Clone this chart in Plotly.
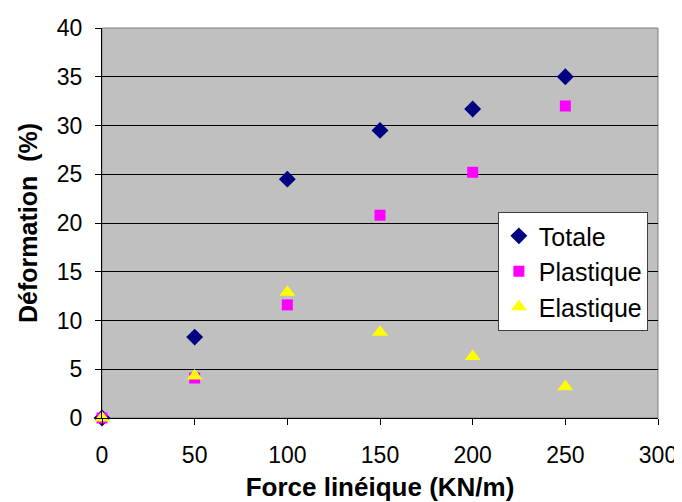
import plotly.graph_objects as go

force = [0, 50, 100, 150, 200, 250]
totale = [0, 8.3, 24.5, 29.5, 31.7, 35.0]
plastique = [0, 4.1, 11.6, 20.8, 25.2, 32.0]
elastique = [0, 4.3, 12.9, 8.8, 6.3, 3.2]

fig = go.Figure()
fig.add_trace(go.Scatter(x=force, y=totale, mode="markers", name="Totale", cliponaxis=False,
                         marker=dict(symbol="diamond", size=13, color="#000080")))
fig.add_trace(go.Scatter(x=force, y=plastique, mode="markers", name="Plastique", cliponaxis=False,
                         marker=dict(symbol="square", size=11, color="#FF00FF")))
fig.add_trace(go.Scatter(x=force, y=elastique, mode="markers", name="Elastique", cliponaxis=False,
                         marker=dict(symbol="triangle-up", size=14, color="#FFFF00")))

font = "Arial, Liberation Sans, sans-serif"
fig.update_layout(
    width=674, height=494,
    margin=dict(l=94, r=24, t=20, b=84),
    paper_bgcolor="white", plot_bgcolor="#C0C0C0",
    font=dict(family=font, size=23, color="black"),
    xaxis=dict(range=[0, 300], tickvals=[0, 50, 100, 150, 200, 250, 300],
               showgrid=False, zeroline=False, showline=True, linecolor="black",
               linewidth=1, ticks="outside", ticklen=6, tickcolor="black",
               automargin=False, ticklabelstandoff=10,
               tickfont=dict(size=23), title=dict(text="<b>Force linéique (KN/m)</b>",
               font=dict(size=26), standoff=12)),
    yaxis=dict(range=[0, 40], tickvals=[0, 5, 10, 15, 20, 25, 30, 35, 40],
               showgrid=True, gridcolor="black", gridwidth=1, zeroline=False,
               showline=True, linecolor="black", linewidth=1, ticks="outside",
               ticklen=6, tickcolor="black", tickfont=dict(size=23),
               automargin=False, ticklabelstandoff=8,
               title=dict(text="<b>Déformation  (%)</b>", font=dict(size=25), standoff=12)),
    legend=dict(x=0.712, y=0.528, xanchor="left", yanchor="top",
                bgcolor="white", bordercolor="#404040", borderwidth=1,
                font=dict(size=25), tracegroupgap=0, itemsizing="trace"),
    showlegend=True,
)
fig.add_shape(type="rect", xref="paper", yref="paper", x0=0, y0=0, x1=1, y1=1,
              line=dict(color="#808080", width=1), layer="below")
fig.write_html("out.html")
